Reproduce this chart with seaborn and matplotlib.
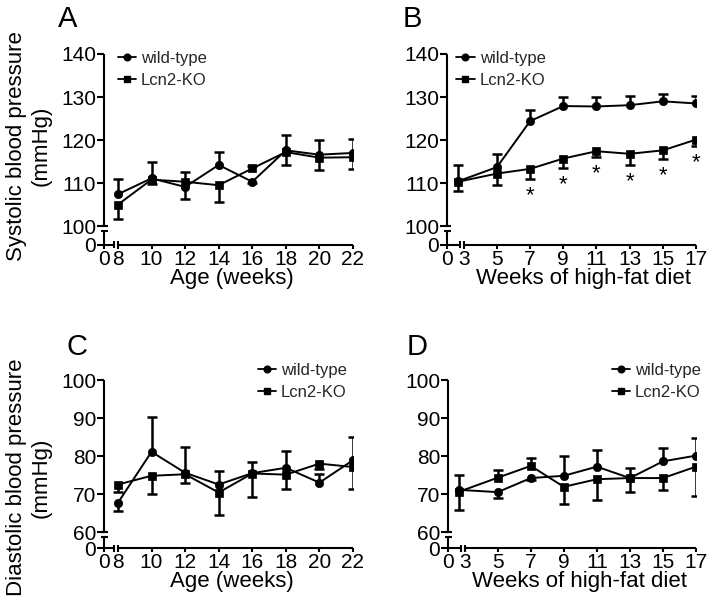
import matplotlib
matplotlib.use("Agg")
import matplotlib.pyplot as plt
import numpy as np
import pandas as pd
import seaborn as sns
from matplotlib.lines import Line2D

# ---- data ----
AGE_WEEKS = [8, 10, 12, 14, 16, 18, 20, 22]
HFD_WEEKS = [2.65, 5, 7, 9, 11, 13, 15, 17]
HFD_STAR_WEEKS = [7, 9, 11, 13, 15, 17]

# A: systolic vs age
SYS_AGE_WT = [107.4, 111.1, 109.1, 114.2, 110.3, 117.6, 116.6, 117.0]
SYS_AGE_WT_UP = [3.6, 3.7, 0.0, 3.0, 0.0, 3.5, 3.5, 3.3]
SYS_AGE_WT_DN = [0.0, 0.0, 2.9, 0.0, 0.4, 0.0, 0.0, 0.0]
SYS_AGE_KO = [105.0, 110.8, 110.3, 109.5, 113.4, 117.2, 115.9, 116.0]
SYS_AGE_KO_UP = [0.0, 0.0, 2.2, 0.0, 0.5, 0.0, 0.0, 0.0]
SYS_AGE_KO_DN = [3.4, 1.1, 0.0, 3.8, 0.0, 3.1, 2.8, 2.7]

# B: systolic vs weeks of HFD
SYS_HFD_WT = [110.4, 113.7, 124.4, 127.9, 127.8, 128.1, 129.0, 128.5]
SYS_HFD_WT_UP = [3.9, 3.0, 2.5, 2.2, 2.1, 2.2, 1.6, 1.7]
SYS_HFD_WT_DN = [0.0, 0.0, 0.0, 0.0, 0.0, 0.0, 0.0, 0.0]
SYS_HFD_KO = [110.3, 112.2, 113.3, 115.7, 117.4, 116.8, 117.6, 120.1]
SYS_HFD_KO_UP = [0.0, 0.0, 0.0, 0.0, 0.0, 0.0, 0.0, 0.0]
SYS_HFD_KO_DN = [2.1, 2.7, 2.3, 2.1, 1.3, 2.5, 1.9, 1.5]

# C: diastolic vs age
DIA_AGE_WT = [67.7, 81.1, 75.6, 72.5, 75.5, 76.9, 73.0, 78.9]
DIA_AGE_WT_UP = [0.0, 9.2, 6.8, 3.6, 2.9, 4.5, 2.4, 6.2]
DIA_AGE_WT_DN = [2.2, 0.0, 0.0, 0.0, 0.0, 0.0, 0.0, 0.0]
DIA_AGE_KO = [72.5, 74.8, 75.2, 70.4, 75.4, 75.1, 78.0, 77.1]
DIA_AGE_KO_UP = [0.0, 0.0, 0.0, 0.0, 0.0, 0.0, 0.0, 0.0]
DIA_AGE_KO_DN = [2.0, 4.9, 2.3, 5.8, 6.2, 3.9, 1.3, 5.8]

# D: diastolic vs weeks of HFD
DIA_HFD_WT = [71.1, 70.5, 74.2, 74.8, 77.2, 74.2, 78.6, 80.1]
DIA_HFD_WT_UP = [3.9, 0.0, 0.0, 5.3, 4.5, 2.6, 3.4, 4.7]
DIA_HFD_WT_DN = [0.0, 1.5, 0.5, 0.0, 0.0, 0.0, 0.0, 0.0]
DIA_HFD_KO = [70.6, 74.3, 77.4, 71.9, 73.9, 74.2, 74.2, 77.2]
DIA_HFD_KO_UP = [0.0, 2.1, 2.2, 0.0, 0.0, 0.0, 0.0, 0.0]
DIA_HFD_KO_DN = [4.7, 0.0, 0.0, 4.4, 5.5, 3.7, 3.1, 7.7]

GROUPS = ["wild-type", "Lcn2-KO"]
MARKERS = {"wild-type": "o", "Lcn2-KO": "s"}

FIG_W, FIG_H = 709, 607


def _frame(weeks, wt, ko):
    return pd.DataFrame({
        "week": list(weeks) * 2,
        "bp": list(wt) + list(ko),
        "group": [GROUPS[0]] * len(weeks) + [GROUPS[1]] * len(weeks),
    })


def _errorbars(ax, x, y, up, dn):
    x = np.asarray(x, float)
    y = np.asarray(y, float)
    up = np.asarray(up, float)
    dn = np.asarray(dn, float)
    ax.vlines(x, y - dn, y + up, color="black", lw=1.8, zorder=2)
    m = up > 0
    ax.plot(x[m], (y + up)[m], ls="none", marker="_", ms=7, mew=1.8, color="black", zorder=2)
    m = dn > 0
    ax.plot(x[m], (y - dn)[m], ls="none", marker="_", ms=7, mew=1.8, color="black", zorder=2)


def _broken_axes(ax, x_zero, x_first, x_last, y_zero, y_first, y_last, xticks, yticks):
    ax.set_xlim(x_zero, x_last)
    ax.set_ylim(y_zero, y_last)
    for s in ax.spines.values():
        s.set_visible(False)
    pos = ax.get_position()
    ppx = pos.width * FIG_W / (x_last - x_zero)
    ppy = pos.height * FIG_H / (y_last - y_zero)
    kw = dict(color="black", lw=1.5, clip_on=False, solid_capstyle="butt", zorder=1)
    cap_x = 3.5 / ppx
    cap_y = 3.5 / ppy
    # y axis: main segment + short segment down to zero
    ax.plot([x_zero, x_zero], [y_first, y_last], **kw)
    ax.plot([x_zero - cap_x, x_zero + cap_x], [y_first, y_first], **kw)
    y_gap = y_first - 4.5 / ppy
    ax.plot([x_zero, x_zero], [y_zero, y_gap], **kw)
    ax.plot([x_zero - cap_x, x_zero + cap_x], [y_gap, y_gap], **kw)
    # x axis: short segment from zero + main segment
    bar1 = x_first - 4.0 / ppx
    ax.plot([x_zero, bar1], [y_zero, y_zero], **kw)
    ax.plot([x_first, x_last], [y_zero, y_zero], **kw)
    for b in (bar1, x_first):
        ax.plot([b, b], [y_zero - cap_y, y_zero + cap_y], **kw)
    ax.set_xticks([x_zero] + list(xticks), ["0"] + [str(t) for t in xticks])
    ax.set_yticks([y_zero] + list(yticks), ["0"] + [str(t) for t in yticks])
    ax.tick_params(bottom=True, left=True, direction="out", width=1.5,
                   labelsize=15, colors="black")
    ax.tick_params(axis="x", length=3, pad=0.3)
    ax.tick_params(axis="y", length=5, pad=0.5)
    ax.grid(False)


def _panel(ax, weeks, wt, wt_up, wt_dn, ko, ko_up, ko_dn):
    _errorbars(ax, weeks, wt, wt_up, wt_dn)
    _errorbars(ax, weeks, ko, ko_up, ko_dn)
    sns.lineplot(
        data=_frame(weeks, wt, ko), x="week", y="bp", hue="group", style="group",
        markers=MARKERS, dashes=False, palette={g: "black" for g in GROUPS},
        markersize=6, markeredgecolor="black", markeredgewidth=0.5,
        linewidth=1.4, legend=False, errorbar=None, ax=ax, zorder=3,
    )
    ax.set_xlabel("")
    ax.set_ylabel("")


def _legend(ax, loc, anchor):
    handles = [
        Line2D([0], [0], color="black", lw=1.3, marker=MARKERS[g], ms=4.8, label=g)
        for g in GROUPS
    ]
    ax.legend(handles=handles, loc=loc, bbox_to_anchor=anchor, frameon=False,
              fontsize=12, handlelength=1.1, handletextpad=0.3, labelspacing=0.42,
              borderpad=0, borderaxespad=0)


sns.set_theme(style="white")
plt.rcParams["font.family"] = ["Liberation Sans", "DejaVu Sans"]

fig = plt.figure(figsize=(FIG_W / 100, FIG_H / 100), dpi=100)
ax_a = fig.add_axes([104 / FIG_W, 1 - 245 / FIG_H, 249 / FIG_W, 191 / FIG_H])
ax_b = fig.add_axes([447 / FIG_W, 1 - 245 / FIG_H, 249 / FIG_W, 191 / FIG_H])
ax_c = fig.add_axes([104 / FIG_W, 1 - 548 / FIG_H, 249 / FIG_W, 168 / FIG_H])
ax_d = fig.add_axes([448 / FIG_W, 1 - 548 / FIG_H, 248 / FIG_W, 168 / FIG_H])

_panel(ax_a, AGE_WEEKS, SYS_AGE_WT, SYS_AGE_WT_UP, SYS_AGE_WT_DN, SYS_AGE_KO, SYS_AGE_KO_UP, SYS_AGE_KO_DN)
_panel(ax_b, HFD_WEEKS, SYS_HFD_WT, SYS_HFD_WT_UP, SYS_HFD_WT_DN, SYS_HFD_KO, SYS_HFD_KO_UP, SYS_HFD_KO_DN)
_panel(ax_c, AGE_WEEKS, DIA_AGE_WT, DIA_AGE_WT_UP, DIA_AGE_WT_DN, DIA_AGE_KO, DIA_AGE_KO_UP, DIA_AGE_KO_DN)
_panel(ax_d, HFD_WEEKS, DIA_HFD_WT, DIA_HFD_WT_UP, DIA_HFD_WT_DN, DIA_HFD_KO, DIA_HFD_KO_UP, DIA_HFD_KO_DN)

age_ticks = [8, 10, 12, 14, 16, 18, 20, 22]
hfd_ticks = [3, 5, 7, 9, 11, 13, 15, 17]
_broken_axes(ax_a, 7.17, 8, 22, 95.6, 100, 140, age_ticks, [100, 110, 120, 130, 140])
_broken_axes(ax_b, 1.99, 3, 17, 95.6, 100, 140, hfd_ticks, [100, 110, 120, 130, 140])
_broken_axes(ax_c, 7.17, 8, 22, 55.8, 60, 100, age_ticks, [60, 70, 80, 90, 100])
_broken_axes(ax_d, 1.99, 3, 17, 55.8, 60, 100, hfd_ticks, [60, 70, 80, 90, 100])

# significance stars under the KO error bars in B
ko_low = {w: v - d for w, v, d in zip(HFD_WEEKS, SYS_HFD_KO, SYS_HFD_KO_DN)}
for w in HFD_STAR_WEEKS:
    ax_b.annotate("*", (w, ko_low[w]), xytext=(0, -16), textcoords="offset points",
                  ha="center", va="baseline", fontsize=16, color="black")

_legend(ax_a, "upper left", (0.055, 1.015))
_legend(ax_b, "upper left", (0.037, 1.015))
_legend(ax_c, "upper right", (0.975, 1.1))
_legend(ax_d, "upper right", (1.02, 1.1))

for ax, text in ((ax_a, "Age (weeks)"), (ax_b, "Weeks of high-fat diet"),
                 (ax_c, "Age (weeks)"), (ax_d, "Weeks of high-fat diet")):
    ax.set_xlabel(text, fontsize=16, color="black")
ax_a.xaxis.set_label_coords(0.514, -23 / 191)
ax_b.xaxis.set_label_coords(0.55, -23 / 191)
ax_c.xaxis.set_label_coords(0.514, -23 / 168)
ax_d.xaxis.set_label_coords(0.53, -23 / 168)
for ax in (ax_a, ax_b, ax_c, ax_d):
    ax.xaxis.label.set_verticalalignment("top")

ax_a.set_ylabel("Systolic blood pressure\n(mmHg)", fontsize=16, color="black", linespacing=1.25)
ax_c.set_ylabel("Diastolic blood pressure\n(mmHg)", fontsize=16, color="black", linespacing=1.25)
ax_a.yaxis.set_label_coords(-0.209, 0.52)
ax_c.yaxis.set_label_coords(-0.209, 0.42)

for x, y, letter in ((58, 27, "A"), (403, 27, "B"), (67, 355, "C"), (407, 355, "D")):
    fig.text(x / FIG_W, 1 - y / FIG_H, letter, fontsize=21, ha="left", va="baseline", color="black")

fig.savefig("out.png", dpi=100, facecolor="white")
